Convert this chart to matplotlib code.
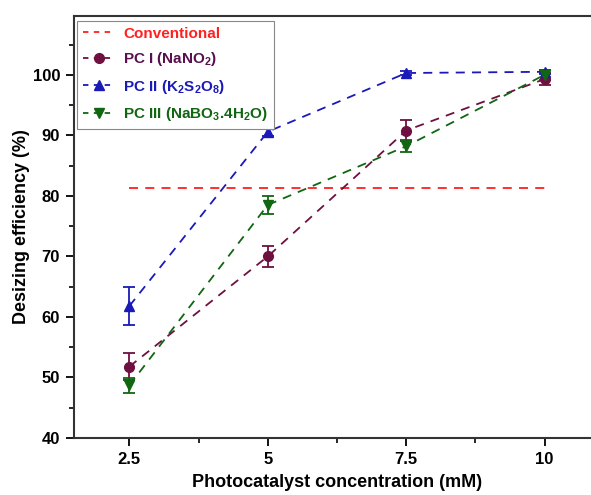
import matplotlib
matplotlib.use("Agg")
import matplotlib.pyplot as plt
from matplotlib.lines import Line2D
from matplotlib.ticker import MultipleLocator, FixedLocator

plt.rcParams['font.family'] = ['Liberation Sans', 'DejaVu Sans']
plt.rcParams['mathtext.fontset'] = 'custom'
plt.rcParams['mathtext.rm'] = 'Liberation Sans'
plt.rcParams['mathtext.bf'] = 'Liberation Sans:bold'

# Photocatalyst concentration (mM)
conc = [2.5, 5, 7.5, 10]
tick_labels = ['2.5', '5', '7.5', '10']

# Conventional desizing reference level
conv_x = [2.5, 10]
conv_level = 81.3

# Desizing efficiency (%) and error for each photocatalyst
pc1 = [51.8, 70.0, 90.8, 99.3]
pc1_err = [2.2, 1.7, 1.8, 1.0]
pc2 = [61.8, 90.6, 100.3, 100.5]
pc2_err = [3.2, 0.7, 0.3, 0.3]
pc3 = [48.7, 78.5, 88.2, 100.0]
pc3_err = [1.2, 1.5, 1.0, 0.8]

c_conv = '#ff2020'
c1 = '#6e1040'
c2 = '#1a1ab8'
c3 = '#116611'
dash = (0, (5, 4))
leg_dash = (0, (3, 3))

fig = plt.figure(figsize=(5.91, 4.95), dpi=100)
ax = fig.add_axes([74/591, 1-438/495, (600-74)/591, (438-15.5)/495])

ax.plot(conv_x, [conv_level, conv_level], ls=dash, color=c_conv, lw=1.3)
ax.errorbar(conc, pc1, yerr=pc1_err, fmt='o', ls=dash, color=c1, lw=1.3,
            ms=7, capsize=4, elinewidth=1.3, capthick=1.3)
ax.errorbar(conc, pc2, yerr=pc2_err, fmt='^', ls=dash, color=c2, lw=1.3,
            ms=7, capsize=4, elinewidth=1.3, capthick=1.3)
ax.errorbar(conc, pc3, yerr=pc3_err, fmt='v', ls=dash, color=c3, lw=1.3,
            ms=7, capsize=4, elinewidth=1.3, capthick=1.3)

ax.set_xlim(1.5, 11.0)
ax.set_ylim(40, 109.8)
ax.set_xticks(conc)
ax.set_xticklabels(tick_labels)
ax.xaxis.set_minor_locator(FixedLocator([3.75, 6.25, 8.75]))
ax.yaxis.set_major_locator(MultipleLocator(10))
ax.yaxis.set_minor_locator(MultipleLocator(5))
ax.tick_params(which='major', direction='out', length=6, width=1.3, labelsize=12, pad=4)
ax.tick_params(which='minor', direction='out', length=3.5, width=1.2)
ax.tick_params(top=False, right=False)
for lbl in ax.get_xticklabels() + ax.get_yticklabels():
    lbl.set_fontweight('bold')

for side in ['left', 'bottom', 'top']:
    ax.spines[side].set_linewidth(1.5)
    ax.spines[side].set_color('#333333')
ax.spines['right'].set_visible(False)

ax.set_xlabel('Photocatalyst concentration (mM)', fontsize=13, fontweight='bold', labelpad=5)
ax.set_ylabel('Desizing efficiency (%)', fontsize=13, fontweight='bold', labelpad=2)

handles = [
    Line2D([], [], ls=leg_dash, color=c_conv, lw=1.3),
    Line2D([], [], ls=leg_dash, color=c1, lw=1.3, marker='o', ms=7),
    Line2D([], [], ls=leg_dash, color=c2, lw=1.3, marker='^', ms=7),
    Line2D([], [], ls=leg_dash, color=c3, lw=1.3, marker='v', ms=7),
]
labels = ['Conventional',
          r'PC I (NaNO$_\mathbf{2}$)',
          r'PC II (K$_\mathbf{2}$S$_\mathbf{2}$O$_\mathbf{8}$)',
          r'PC III (NaBO$_\mathbf{3}$.4H$_\mathbf{2}$O)']
leg = ax.legend(handles, labels, loc='upper left', bbox_to_anchor=(0.0, 0.995), fontsize=11,
                frameon=True, fancybox=False, edgecolor='#888888', framealpha=1,
                handlelength=2.1, borderaxespad=0.2, labelspacing=0.62, handletextpad=0.5,
                borderpad=0.4)
leg.get_frame().set_linewidth(0.8)
colors = ['#ff2020', '#5a1050', '#1a1ab8', '#116611']
for txt, c in zip(leg.get_texts(), colors):
    txt.set_color(c)
    txt.set_fontweight('bold')

fig.savefig('out.png', dpi=100)
